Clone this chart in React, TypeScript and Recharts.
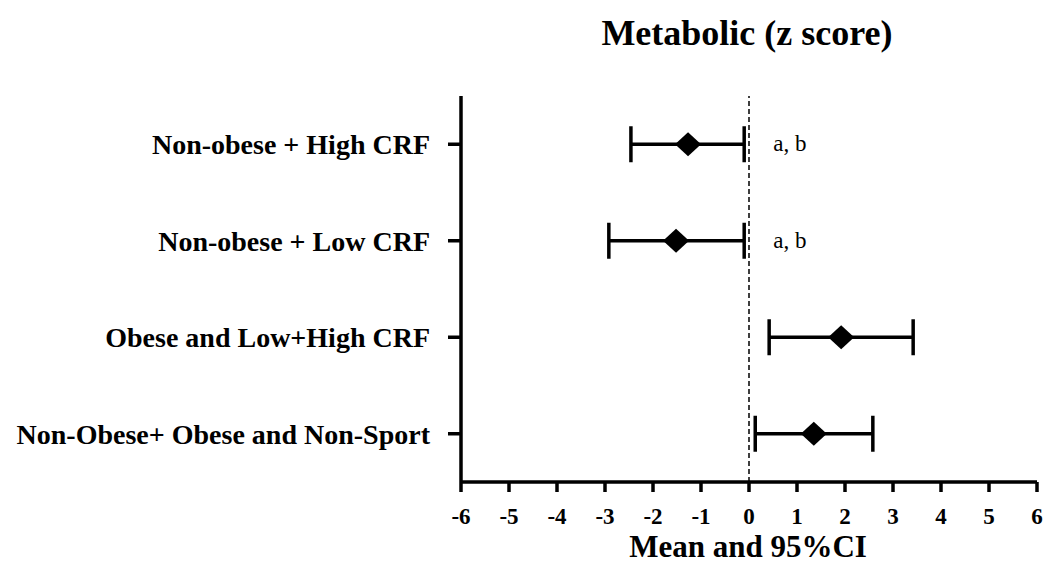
import React from 'react';
import {
  ScatterChart,
  Scatter,
  XAxis,
  YAxis,
  ErrorBar,
  ReferenceLine,
} from 'recharts';

// groups top to bottom
const groups = [
  'Non-obese + High CRF',
  'Non-obese + Low CRF',
  'Obese and Low+High CRF',
  'Non-Obese+ Obese and Non-Sport',
];
const means = [-1.27, -1.52, 1.92, 1.35];
const lows = [-2.46, -2.92, 0.42, 0.13];
const highs = [-0.1, -0.1, 3.42, 2.58];
const notes = ['a, b', 'a, b', '', ''];
const xTicks = [-6, -5, -4, -3, -2, -1, 0, 1, 2, 3, 4, 5, 6];

const serif = '"Liberation Serif", "Times New Roman", serif';

const points = groups.map((g, i) => ({
  name: g,
  x: means[i],
  y: i + 1,
  err: [means[i] - lows[i], highs[i] - means[i]],
}));

const noteData = groups
  .map((g, i) => ({ name: g, x: highs[i], y: i + 1, note: notes[i] }))
  .filter((d) => d.note !== '');

const Diamond = (props: any) => {
  const cx = props.cx ?? props.x + props.width / 2;
  const cy = props.cy ?? props.y + props.height / 2;
  const w = 13;
  const h = 12;
  return (
    <polygon
      points={`${cx - w},${cy} ${cx},${cy - h} ${cx + w},${cy} ${cx},${cy + h}`}
      fill="#000"
    />
  );
};

const NoteText = (props: any) => {
  const cx = props.cx ?? props.x + props.width / 2;
  const cy = props.cy ?? props.y + props.height / 2;
  return (
    <text x={cx + 29} y={cy} dy="0.3em" fontFamily={serif} fontSize={23} fill="#000">
      {props.payload?.note ?? props.note}
    </text>
  );
};

export default function App() {
  return (
    <div style={{ position: 'absolute', left: 0, top: 0, width: 1046, height: 570, background: '#fff' }}>
      <div
        style={{
          position: 'absolute',
          left: 447,
          top: 15,
          width: 600,
          textAlign: 'center',
          fontFamily: serif,
          fontWeight: 'bold',
          fontSize: 36,
          lineHeight: '36px',
          color: '#000',
        }}
      >
        Metabolic (z score)
      </div>
      <ScatterChart
        width={1046}
        height={570}
        margin={{ top: 96, right: 9, bottom: 0, left: 0 }}
        style={{ position: 'absolute', left: 0, top: 0 }}
      >
        <XAxis
          type="number"
          dataKey="x"
          domain={[-6, 6]}
          ticks={xTicks}
          interval={0}
          height={88}
          tickSize={10}
          tickMargin={16}
          axisLine={{ stroke: '#000', strokeWidth: 3.5 }}
          tickLine={{ stroke: '#000', strokeWidth: 3.5 }}
          tick={{ fill: '#000', fontFamily: serif, fontWeight: 'bold', fontSize: 23 }}
        />
        <YAxis
          type="number"
          dataKey="y"
          domain={[0.5, 4.5]}
          reversed
          ticks={[1, 2, 3, 4]}
          interval={0}
          width={461}
          tickSize={13}
          tickMargin={18}
          tickFormatter={(v: number) => groups[v - 1] ?? ''}
          axisLine={{ stroke: '#000', strokeWidth: 3.5 }}
          tickLine={{ stroke: '#000', strokeWidth: 3.5 }}
          tick={{ fill: '#000', fontFamily: serif, fontWeight: 'bold', fontSize: 28 }}
        />
        <ReferenceLine x={0} stroke="#000" strokeWidth={1.5} strokeDasharray="5 3" />
        <Scatter data={points} shape={<Diamond />} isAnimationActive={false}>
          <ErrorBar dataKey="err" direction="x" width={18} stroke="#000" strokeWidth={3.5} />
        </Scatter>
        <Scatter data={noteData} shape={<NoteText />} isAnimationActive={false} />
      </ScatterChart>
      <div
        style={{
          position: 'absolute',
          left: 448,
          top: 531,
          width: 600,
          textAlign: 'center',
          fontFamily: serif,
          fontWeight: 'bold',
          fontSize: 31,
          lineHeight: '31px',
          color: '#000',
        }}
      >
        Mean and 95%CI
      </div>
    </div>
  );
}
